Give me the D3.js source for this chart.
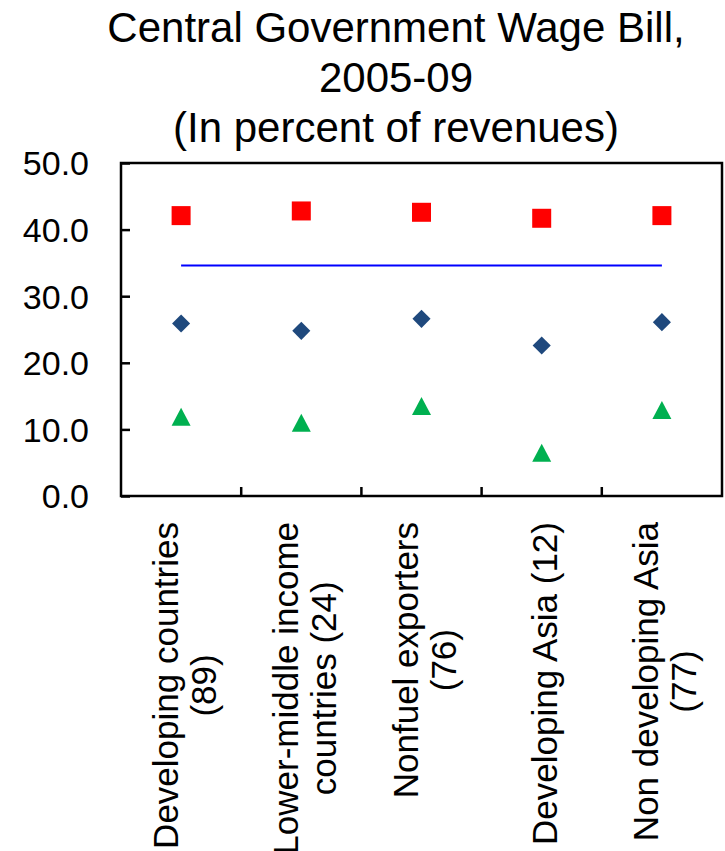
<!DOCTYPE html>
<html>
<head>
<meta charset="utf-8">
<script src="https://cdn.jsdelivr.net/npm/d3@7"></script>
<style>
  html, body { margin: 0; padding: 0; background: #fff; }
  svg { display: block; font-family: "Liberation Sans", Arial, sans-serif; }
</style>
</head>
<body>
<svg id="chart" width="725" height="851"></svg>
<script>
// Country groups (each entry is the label split into its display lines)
const categoryLines = [
  ["Developing countries", "(89)"],
  ["Lower-middle income", "countries (24)"],
  ["Nonfuel exporters", "(76)"],
  ["Developing Asia (12)"],
  ["Non developing Asia", "(77)"]
];

// Wage bill, in percent of revenues
const seriesHigh = [42.1, 42.8, 42.6, 41.7, 42.1];   // red squares
const seriesMid  = [25.9, 24.8, 26.6, 22.6, 26.1];   // blue diamonds
const seriesLow  = [11.9, 11.0, 13.5, 6.5, 12.9];    // green triangles
const averageLevel = 34.6;                           // horizontal reference line

const yTicks = [0, 10, 20, 30, 40, 50];
const titleLines = ["Central Government Wage Bill,", "2005-09", "(In percent of revenues)"];

const svg = d3.select("#chart");
const plot = { left: 121, right: 722, top: 163, bottom: 496 };

const x = d3.scaleBand()
  .domain(d3.range(categoryLines.length))
  .range([plot.left, plot.right])
  .paddingInner(0).paddingOuter(0);
const cx = i => x(i) + x.bandwidth() / 2;

const y = d3.scaleLinear().domain([0, 50]).range([plot.bottom, plot.top]);

// Title
svg.append("g")
  .selectAll("text")
  .data(titleLines)
  .join("text")
  .attr("x", 396)
  .attr("y", (d, i) => 42 + i * 50)
  .attr("text-anchor", "middle")
  .attr("font-size", 42)
  .attr("fill", "#000")
  .text(d => d);

// Plot frame
svg.append("rect")
  .attr("x", plot.left).attr("y", plot.top)
  .attr("width", plot.right - plot.left)
  .attr("height", plot.bottom - plot.top)
  .attr("fill", "none").attr("stroke", "#000").attr("stroke-width", 2.5);

// Y axis: ticks point inward, labels on the left
const yAxis = d3.axisRight(y)
  .tickValues(yTicks)
  .tickSize(9)
  .tickFormat(d3.format(".1f"));
const yg = svg.append("g").attr("transform", `translate(${plot.left},0)`).call(yAxis);
yg.select(".domain").remove();
yg.selectAll(".tick line").attr("stroke", "#000").attr("stroke-width", 2.5);
yg.selectAll(".tick text")
  .attr("x", -32)
  .attr("text-anchor", "end")
  .attr("dy", "0.35em")
  .attr("font-size", 34)
  .attr("font-family", "'Liberation Sans', Arial, sans-serif")
  .attr("fill", "#000");

// X axis: category dividers pointing up into the plot
const dividers = d3.range(1, categoryLines.length).map(i => x(i));
svg.append("g")
  .selectAll("line")
  .data(dividers)
  .join("line")
  .attr("x1", d => d).attr("x2", d => d)
  .attr("y1", plot.bottom).attr("y2", plot.bottom - 9)
  .attr("stroke", "#000").attr("stroke-width", 2.5);

// Rotated category labels; lines centred on the longest one, which ends near the axis
const labelTop = 522;
const lineGap = 38;
const labelG = svg.append("g");
categoryLines.forEach((lines, i) => {
  const g = labelG.append("g");
  const texts = g.selectAll("text")
    .data(lines)
    .join("text")
    .attr("font-size", 35)
    .attr("fill", "#000")
    .attr("text-anchor", "middle")
    .attr("dominant-baseline", "central")
    .text(d => d);
  let maxLen = 0;
  texts.each(function () { maxLen = Math.max(maxLen, this.getComputedTextLength()); });
  const centerY = labelTop + maxLen / 2;
  texts.attr("transform", (d, j) => {
    const lx = cx(i) + 3 + (j - (lines.length - 1) / 2) * lineGap;
    return `translate(${lx},${centerY}) rotate(-90)`;
  });
});

// Average line
svg.append("line")
  .attr("x1", cx(0)).attr("x2", cx(categoryLines.length - 1))
  .attr("y1", y(averageLevel)).attr("y2", y(averageLevel))
  .attr("stroke", "#0000FF").attr("stroke-width", 2);

// Markers
const marks = svg.append("g");
marks.selectAll("rect.high")
  .data(seriesHigh)
  .join("rect")
  .attr("class", "high")
  .attr("x", (d, i) => cx(i) - 9.5)
  .attr("y", d => y(d) - 9.5)
  .attr("width", 19).attr("height", 19)
  .attr("fill", "#FF0000");

const diamond = d3.symbol().type(d3.symbolSquare).size(12.8 * 12.8);
marks.selectAll("path.mid")
  .data(seriesMid)
  .join("path")
  .attr("class", "mid")
  .attr("d", diamond)
  .attr("transform", (d, i) => `translate(${cx(i)},${y(d)}) rotate(45)`)
  .attr("fill", "#1F497D");

marks.selectAll("path.low")
  .data(seriesLow)
  .join("path")
  .attr("class", "low")
  .attr("d", d => "M0,-9L9.5,9L-9.5,9Z")
  .attr("transform", (d, i) => `translate(${cx(i)},${y(d)})`)
  .attr("fill", "#00B050");
</script>
</body>
</html>
